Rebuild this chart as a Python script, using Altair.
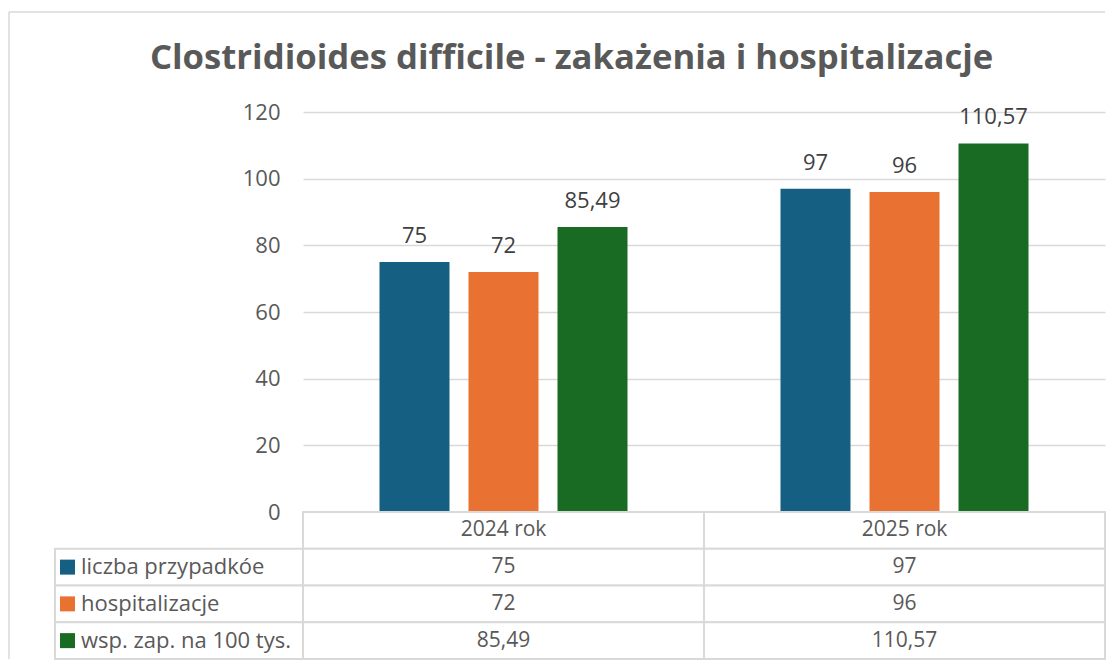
import altair as alt
import pandas as pd

# ---- data ----
years = ["2024 rok", "2025 rok"]
series = ["liczba przypadkóe", "hospitalizacje", "wsp. zap. na 100 tys."]
values_2024 = [75, 72, 85.49]
values_2025 = [97, 96, 110.57]
colors = ["#156082", "#E97132", "#196B24"]
y_ticks = [0, 20, 40, 60, 80, 100, 120]
title_text = "Clostridioides difficile - zakażenia i hospitalizacje"

FONT = "Open Sans"
GRAY = "#595959"
LINE = "#D9D9D9"


def fmt(v):
    return f"{v:g}".replace(".", ",")


rows = []
for yr, vals in zip(years, [values_2024, values_2025]):
    for s, v in zip(series, vals):
        rows.append({"year": yr, "series": s, "value": v, "label": fmt(v)})
df = pd.DataFrame(rows)

row_domain = ["header"] + series
trows = [{"year": yr, "row": "header", "text": yr} for yr in years]
trows += [{"year": r["year"], "row": r["series"], "text": r["label"]} for r in rows]
tdf = pd.DataFrame(trows)
ldf = pd.DataFrame({"row": series, "col": ["legend"] * len(series)})

color_enc = alt.Color("series:N", scale=alt.Scale(domain=series, range=colors), legend=None)

PLOT_W, PLOT_H = 802, 400
LEG_W, TABLE_H = 248, 147

# ---- bar chart ----
x_enc = alt.X("year:N", scale=alt.Scale(domain=years, paddingInner=0.3815, paddingOuter=0.19075), axis=None)
xoff = alt.XOffset("series:N", scale=alt.Scale(domain=series, paddingInner=0.2135, paddingOuter=0))
y_scale = alt.Scale(domain=[0, 120], nice=False)
y_enc = alt.Y(
    "value:Q",
    scale=y_scale,
    axis=alt.Axis(
        values=y_ticks, title=None, domain=False, ticks=False,
        labelFont=FONT, labelFontSize=22, labelColor=GRAY, labelPadding=23,
        gridColor=LINE, gridWidth=1.5,
    ),
)
bars = alt.Chart(df).mark_bar().encode(x=x_enc, xOffset=xoff, y=y_enc, color=color_enc)
labels = alt.Chart(df).mark_text(
    baseline="alphabetic", dy=-19, font=FONT, fontSize=22, color="#404040"
).encode(x=x_enc, xOffset=xoff, y=alt.Y("value:Q", scale=y_scale), text="label:N")
top = (bars + labels).properties(width=PLOT_W, height=PLOT_H)

# ---- data table ----
tx = alt.X("year:N", scale=alt.Scale(domain=years, paddingInner=0, paddingOuter=0), axis=None)
ty = alt.Y("row:N", scale=alt.Scale(domain=row_domain, paddingInner=0, paddingOuter=0), axis=None)
cells = alt.Chart(tdf).mark_rect(fill="white", stroke=LINE, strokeWidth=2).encode(x=tx, y=ty)
ctext = alt.Chart(tdf).mark_text(font=FONT, fontSize=21, color=GRAY, baseline="middle").encode(
    x=tx, y=ty, text="text:N"
)
table = (cells + ctext).properties(width=PLOT_W, height=TABLE_H)

# ---- legend column of the table ----
lx = alt.X("col:N", scale=alt.Scale(paddingInner=0, paddingOuter=0), axis=None)
lcells = alt.Chart(ldf).mark_rect(fill="white", stroke=LINE, strokeWidth=2).encode(x=lx, y=ty)
swatch = alt.Chart(ldf).mark_square(size=225, opacity=1, filled=True).encode(
    x=alt.value(12.5), y=ty, color=alt.Color("row:N", scale=alt.Scale(domain=series, range=colors), legend=None)
)
ltext = alt.Chart(ldf).mark_text(align="left", baseline="middle", font=FONT, fontSize=22, color=GRAY).encode(
    x=alt.value(26), y=ty, text="row:N"
)
legend = (lcells + swatch + ltext).properties(width=LEG_W, height=TABLE_H)

# ---- empty top-left cell, carrying the chart-area frame ----
one = pd.DataFrame({"a": [0]})
frame_top = alt.Chart(one).mark_rule(color=LINE, strokeWidth=1.5).encode(
    x=alt.value(-46), x2=alt.value(LEG_W + PLOT_W), y=alt.value(-100)
)
frame_left = alt.Chart(one).mark_rule(color=LINE, strokeWidth=1.5).encode(
    x=alt.value(-46), y=alt.value(-100), y2=alt.value(PLOT_H + TABLE_H)
)
blank = (frame_top + frame_left).properties(width=LEG_W, height=PLOT_H)

chart = alt.concat(
    blank, top, legend, table, columns=2, spacing=0, bounds="flush"
).resolve_scale(
    x="independent", y="independent", xOffset="independent", color="independent"
).properties(
    title=alt.Title(
        title_text, font=FONT, fontSize=34.7, fontWeight="bold", color=GRAY,
        anchor="middle", offset=26, dx=14.5, dy=91,
    ),
    padding={"left": 0, "top": 3, "right": 0, "bottom": 0},
    background="white",
).configure_view(stroke=None)

chart.save("out.html", embed_options={"renderer": "svg", "actions": False})
